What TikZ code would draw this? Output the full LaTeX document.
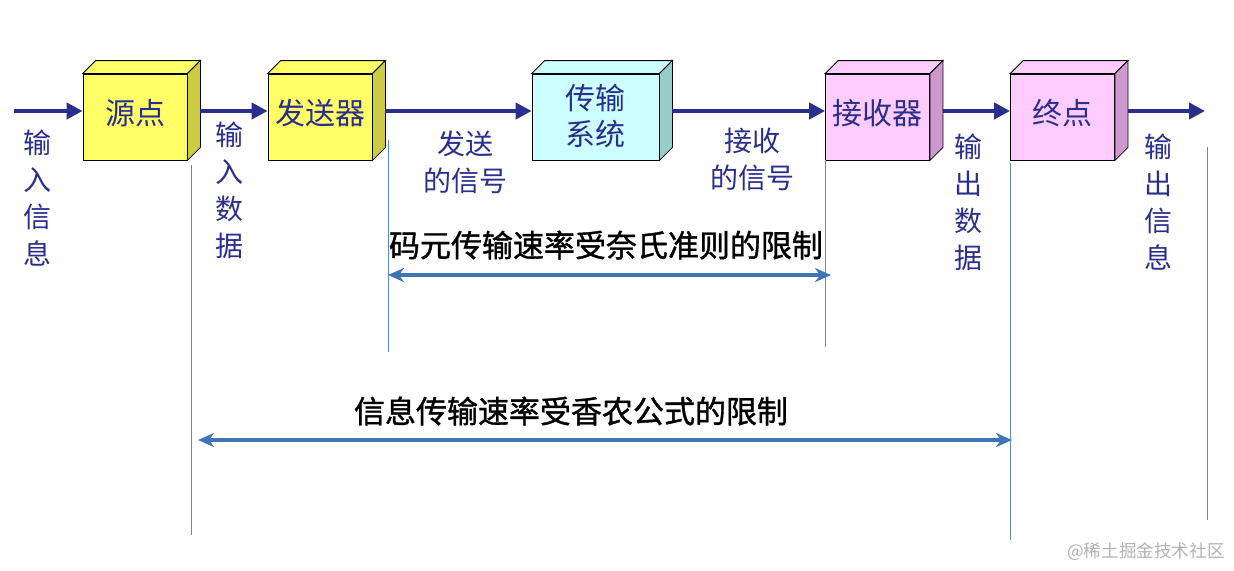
\documentclass[tikz,border=0pt]{standalone}
\usepackage{fontspec}
\newfontfamily\cjk{Noto Sans CJK SC}
\newfontfamily\cjkheavy[FakeBold=1.2]{Noto Sans CJK SC}
\usetikzlibrary{arrows.meta,positioning}
\definecolor{flowblue}{RGB}{42,46,140}
\definecolor{guideblue}{RGB}{95,138,192}
\definecolor{limitblue}{RGB}{62,116,184}
\definecolor{srcyellow}{RGB}{255,255,102}
\definecolor{srcside}{RGB}{204,204,68}
\definecolor{chancyan}{RGB}{204,255,255}
\definecolor{chanside}{RGB}{150,204,204}
\definecolor{rcvpink}{RGB}{255,204,255}
\definecolor{rcvside}{RGB}{204,153,204}
\tikzset{block/.style={draw,thin,minimum width=52pt,minimum height=43pt,inner sep=0pt,
   text depth=5pt,font=\cjk\fontsize{15pt}{18pt}\selectfont,text=flowblue,align=center},
 flow/.style={-{Triangle[length=8pt,width=8pt]},line width=2.2pt,flowblue},
 guide/.style={guideblue,line width=0.5pt},
 limit/.style={{Stealth[length=8pt,width=7pt]}-{Stealth[length=8pt,width=7pt]},line width=1.6pt,limitblue},
 sig/.style={font=\cjk\fontsize{14pt}{18.5pt}\selectfont,text=flowblue,align=center,inner sep=0pt},
 rule/.style={font=\cjkheavy\fontsize{15.5pt}{18pt}\selectfont,inner sep=0pt}}

\begin{document}
\begin{tikzpicture}[x=0.5pt,y=-0.5pt]
\useasboundingbox (0,0) rectangle (1234,570);
% the five blocks
\node[block,fill=srcyellow] (src) at (135,117) {源点};
\node[block,fill=srcyellow] (snd) at (320,117) {发送器};
\node[block,fill=chancyan,minimum width=63.5pt,text depth=2pt] (chan) at (595.5,117) {传输\\系统};
\node[block,fill=rcvpink] (rcv) at (877.5,117) {接收器};
\node[block,fill=rcvpink] (dst) at (1062.5,117) {终点};
\foreach \b/\face/\side in {src/srcyellow/srcside,snd/srcyellow/srcside,
  chan/chancyan/chanside,rcv/rcvpink/rcvside,dst/rcvpink/rcvside}{
 \draw[thin,fill=\face] (\b.north west) -- ([shift={(13,-13)}]\b.north west)
   -- ([shift={(13,-13)}]\b.north east) -- (\b.north east) -- cycle;
 \draw[thin,fill=\side] (\b.north east) -- ([shift={(13,-13)}]\b.north east)
   -- ([shift={(13,-13)}]\b.south east) -- (\b.south east) -- cycle;
}
% signal flow
\coordinate (in) at (14,111);
\coordinate (out) at (1205,111);
\draw[flow] (in) -- ([yshift=3pt]src.west);
\draw[flow] ([xshift=6.5pt,yshift=3pt]src.east) -- ([yshift=3pt]snd.west);
\draw[flow] ([xshift=6.5pt,yshift=3pt]snd.east) -- ([yshift=3pt]chan.west);
\draw[flow] ([xshift=6.5pt,yshift=3pt]chan.east) -- ([yshift=3pt]rcv.west);
\draw[flow] ([xshift=6.5pt,yshift=3pt]rcv.east) -- ([yshift=3pt]dst.west);
\draw[flow] ([xshift=6.5pt,yshift=3pt]dst.east) -- (out);
% labels under the flow
\node[sig] (lin) at (37,198) {输\\入\\信\\息};
\node[sig] (ldata) at (229,190) {输\\入\\数\\据};
\node[sig] (lsent) at (465,162) {发送\\的信号};
\node[sig] (lrecv) at (752,159) {接收\\的信号};
\node[sig] (lodata) at (968,202) {输\\出\\数\\据};
\node[sig] (lout) at (1158,202) {输\\出\\信\\息};
% guide lines
\draw[guide] (191,165) -- (191,535);
\draw[guide] (388,140) -- (388,352);
\draw[guide] (825,160) -- (825,347);
\draw[guide] (1010,163) -- (1010,540);
\draw[guide] (1207,147) -- (1207,520);
% limits
\coordinate (nyqL) at (388,275);
\coordinate (nyqR) at (831,275);
\coordinate (shnL) at (198,440);
\coordinate (shnR) at (1012,440);
\draw[limit] (nyqL) -- (nyqR);
\draw[limit] (shnL) -- (shnR);
\node[rule] (nyq) at (606,245) {码元传输速率受奈氏准则的限制};
\node[rule] (shn) at (571,411) {信息传输速率受香农公式的限制};
\node[font=\cjk\fontsize{8.8pt}{10pt}\selectfont,text=black!30,inner sep=0pt] (wm) at (1146,552) {@稀土掘金技术社区};
\end{tikzpicture}
\end{document}
